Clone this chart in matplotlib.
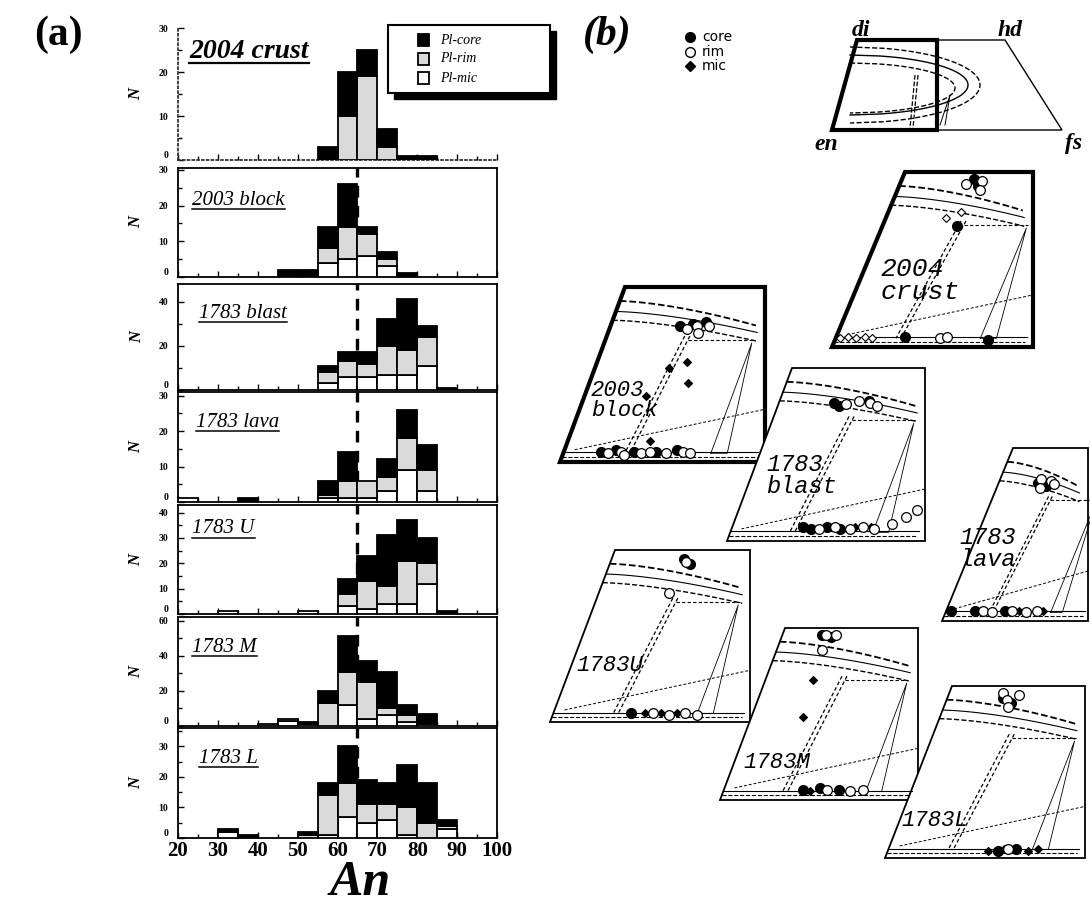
import numpy as np
import matplotlib
matplotlib.use('Agg')
import matplotlib.pyplot as plt
from matplotlib.patches import Polygon, Rectangle
from matplotlib.ticker import MultipleLocator

# ------------------------------------------------------------------
# (a) histogram data: bins of An (left edges), counts per component
# ------------------------------------------------------------------
bin_left = [20, 25, 30, 35, 40, 45, 50, 55, 60, 65, 70, 75, 80, 85, 90, 95]
sample_names = ['2004 crust', '2003 block', '1783 blast', '1783 lava',
                '1783 U', '1783 M', '1783 L']

crust_mic  = [0, 0, 0, 0, 0, 0, 0, 0, 0, 0, 0, 0, 0, 0, 0, 0]
crust_rim  = [0, 0, 0, 0, 0, 0, 0, 0, 10, 19, 3, 0, 0, 0, 0, 0]
crust_core = [0, 0, 0, 0, 0, 0, 0, 3, 10, 6, 4, 1, 1, 0, 0, 0]

block_mic  = [0, 0, 0, 0, 0, 0, 0, 4, 5, 6, 3, 0, 0, 0, 0, 0]
block_rim  = [0, 0, 0, 0, 0, 0, 0, 4, 9, 6, 2, 0, 0, 0, 0, 0]
block_core = [0, 0, 0, 0, 0, 2, 2, 6, 12, 2, 2, 1, 0, 0, 0, 0]

blast_mic  = [0, 0, 0, 0, 0, 0, 0, 3, 6, 6, 7, 7, 11, 0, 0, 0]
blast_rim  = [0, 0, 0, 0, 0, 0, 0, 5, 7, 6, 13, 11, 13, 0, 0, 0]
blast_core = [0, 0, 0, 0, 0, 0, 0, 3, 4, 5, 12, 23, 5, 1, 0, 0]

lava_mic  = [1, 0, 0, 0, 0, 0, 0, 1, 1, 1, 3, 9, 3, 0, 0, 0]
lava_rim  = [0, 0, 0, 0, 0, 0, 0, 1, 5, 5, 4, 9, 6, 0, 0, 0]
lava_core = [0, 0, 0, 1, 0, 0, 0, 4, 8, 0, 5, 8, 7, 0, 0, 0]

u_mic  = [0, 0, 1, 0, 0, 0, 1, 0, 3, 2, 4, 4, 12, 0, 0, 0]
u_rim  = [0, 0, 0, 0, 0, 0, 0, 0, 5, 11, 7, 17, 8, 0, 0, 0]
u_core = [0, 0, 0, 0, 0, 0, 0, 0, 6, 10, 20, 16, 10, 1, 0, 0]

m_mic  = [0, 0, 0, 0, 0, 3, 1, 0, 12, 4, 6, 2, 1, 0, 0, 0]
m_rim  = [0, 0, 0, 0, 1, 1, 0, 13, 19, 21, 4, 4, 0, 0, 0, 0]
m_core = [0, 0, 0, 0, 0, 0, 1, 7, 20, 12, 21, 6, 6, 0, 0, 0]

l_mic  = [0, 0, 2, 0, 0, 0, 0, 1, 7, 5, 6, 1, 0, 3, 0, 0]
l_rim  = [0, 0, 0, 0, 0, 0, 1, 13, 11, 6, 5, 9, 5, 1, 0, 0]
l_core = [0, 0, 1, 1, 0, 0, 1, 4, 12, 8, 7, 14, 13, 2, 0, 0]

mic_sets  = [crust_mic, block_mic, blast_mic, lava_mic, u_mic, m_mic, l_mic]
rim_sets  = [crust_rim, block_rim, blast_rim, lava_rim, u_rim, m_rim, l_rim]
core_sets = [crust_core, block_core, blast_core, lava_core, u_core, m_core, l_core]

y_max   = [30, 30.5, 48, 31, 43, 62, 36]
y_major = [10, 10, 20, 10, 10, 20, 10]
y_minor = [5, 5, 10, 5, 5, 10, 5]
x_ticks = [20, 30, 40, 50, 60, 70, 80, 90, 100]
ref_An = 65

# ------------------------------------------------------------------
# (b) pyroxene compositions in each inset: (u = Fs-direction, v = Wo-direction)
# ------------------------------------------------------------------
inset_names = ['2004\ncrust', '2003\nblock', '1783\nblast', '1783\nlava',
               '1783U', '1783M', '1783L']

crust_core_u = [0.36, 0.39, 0.37, 0.34, 0.76]
crust_core_v = [0.96, 0.92, 0.69, 0.06, 0.04]
crust_rim_u  = [0.40, 0.33, 0.41, 0.52, 0.55]
crust_rim_v  = [0.95, 0.93, 0.90, 0.05, 0.06]
crust_mic_u  = [0.36, 0.30, 0.02, 0.06, 0.10, 0.14, 0.18]
crust_mic_v  = [0.77, 0.74, 0.05, 0.06, 0.05, 0.06, 0.05]

block_core_u = [0.34, 0.46, 0.40, 0.18, 0.25, 0.34, 0.45, 0.55]
block_core_v = [0.78, 0.80, 0.79, 0.06, 0.07, 0.06, 0.06, 0.07]
block_rim_u  = [0.38, 0.42, 0.44, 0.48, 0.22, 0.28, 0.30, 0.38, 0.42, 0.50, 0.58, 0.62]
block_rim_v  = [0.76, 0.78, 0.74, 0.78, 0.05, 0.06, 0.04, 0.05, 0.06, 0.05, 0.06, 0.05]
block_mic_u  = [0.36, 0.44, 0.30, 0.48, 0.40]
block_mic_v  = [0.54, 0.57, 0.38, 0.45, 0.12]

blast_core_u = [0.28, 0.31, 0.45, 0.36, 0.40, 0.48, 0.55]
blast_core_v = [0.80, 0.78, 0.81, 0.08, 0.07, 0.08, 0.07]
blast_rim_u  = [0.34, 0.40, 0.46, 0.50, 0.44, 0.52, 0.60, 0.66, 0.72, 0.80, 0.86, 0.90]
blast_rim_v  = [0.79, 0.81, 0.80, 0.78, 0.07, 0.08, 0.07, 0.08, 0.07, 0.10, 0.14, 0.18]
blast_mic_u  = [0.62, 0.70]
blast_mic_v  = [0.08, 0.08]

lava_core_u = [0.27, 0.33, 0.03, 0.20, 0.40]
lava_core_v = [0.80, 0.78, 0.06, 0.06, 0.06]
lava_rim_u  = [0.28, 0.30, 0.35, 0.38, 0.25, 0.32, 0.45, 0.55, 0.62]
lava_rim_v  = [0.82, 0.77, 0.81, 0.79, 0.06, 0.05, 0.06, 0.05, 0.06]
lava_mic_u  = [0.50, 0.66]
lava_mic_v  = [0.06, 0.06]

ua_core_u = [0.36, 0.40, 0.39]
ua_core_v = [0.95, 0.92, 0.05]
ua_rim_u  = [0.38, 0.35, 0.50, 0.58, 0.66, 0.72]
ua_rim_v  = [0.93, 0.75, 0.05, 0.04, 0.05, 0.04]
ua_mic_u  = [0.46, 0.54, 0.62]
ua_mic_v  = [0.05, 0.05, 0.05]

ma_core_u = [0.20, 0.25, 0.40, 0.48, 0.58]
ma_core_v = [0.96, 0.95, 0.06, 0.07, 0.06]
ma_rim_u  = [0.22, 0.27, 0.23, 0.52, 0.64, 0.70]
ma_rim_v  = [0.96, 0.96, 0.87, 0.06, 0.05, 0.06]
ma_mic_u  = [0.24, 0.26, 0.44]
ma_mic_v  = [0.70, 0.48, 0.05]

la_core_u = [0.28, 0.33, 0.55, 0.64]
la_core_v = [0.93, 0.90, 0.04, 0.05]
la_rim_u  = [0.27, 0.30, 0.35, 0.32, 0.60]
la_rim_v  = [0.96, 0.92, 0.95, 0.88, 0.05]
la_mic_u  = [0.50, 0.58, 0.70, 0.75]
la_mic_v  = [0.04, 0.05, 0.04, 0.05]

core_u = [crust_core_u, block_core_u, blast_core_u, lava_core_u, ua_core_u, ma_core_u, la_core_u]
core_v = [crust_core_v, block_core_v, blast_core_v, lava_core_v, ua_core_v, ma_core_v, la_core_v]
rim_u = [crust_rim_u, block_rim_u, blast_rim_u, lava_rim_u, ua_rim_u, ma_rim_u, la_rim_u]
rim_v = [crust_rim_v, block_rim_v, blast_rim_v, lava_rim_v, ua_rim_v, ma_rim_v, la_rim_v]
mic_u = [crust_mic_u, block_mic_u, blast_mic_u, lava_mic_u, ua_mic_u, ma_mic_u, la_mic_u]
mic_v = [crust_mic_v, block_mic_v, blast_mic_v, lava_mic_v, ua_mic_v, ma_mic_v, la_mic_v]

# ------------------------------------------------------------------
W_PX, H_PX = 1090, 906
fig = plt.figure(figsize=(W_PX / 100, H_PX / 100), dpi=100)
fig.patch.set_facecolor('white')
SERIF = 'Liberation Serif'
GRAY = '#dadada'


def fx(px):
    return px / W_PX


def fy(py):
    return 1 - py / H_PX


# panel placement in pixels (top, bottom)
x_left_px, x_right_px = 178, 497
panel_px = [(28, 160), (168, 277), (284, 390), (392, 502),
            (505, 614), (617, 726), (728, 838)]
title_pos = [(0.035, 0.82), (0.045, 0.70), (0.065, 0.72), (0.055, 0.72),
             (0.045, 0.78), (0.045, 0.72), (0.065, 0.72)]

axes = []
for i, (t, b) in enumerate(panel_px):
    ax = fig.add_axes([fx(x_left_px), fy(b), fx(x_right_px - x_left_px), (b - t) / H_PX])
    axes.append(ax)
    mic = np.array(mic_sets[i], float)
    rim = np.array(rim_sets[i], float)
    core = np.array(core_sets[i], float)
    left = np.array(bin_left, float)
    m = mic > 0
    ax.bar(left[m], mic[m], width=5, align='edge', bottom=0, color='white',
           edgecolor='black', linewidth=1.3, zorder=3)
    r = rim > 0
    ax.bar(left[r], rim[r], width=5, align='edge', bottom=mic[r], color=GRAY,
           edgecolor='black', linewidth=1.3, zorder=3)
    c = core > 0
    ax.bar(left[c], core[c], width=5, align='edge', bottom=(mic + rim)[c], color='black',
           edgecolor='black', linewidth=1.3, zorder=3)
    if i > 0:
        ax.axvline(ref_An, color='black', lw=2.4, ls=(0, (3.5, 2.5)), zorder=2)
    ax.set_xlim(20, 100)
    ax.set_ylim(0, y_max[i])
    ax.xaxis.set_major_locator(MultipleLocator(10))
    ax.xaxis.set_minor_locator(MultipleLocator(5))
    ax.yaxis.set_major_locator(MultipleLocator(y_major[i]))
    ax.yaxis.set_minor_locator(MultipleLocator(y_minor[i]))
    ax.tick_params(axis='both', which='both', direction='in', top=False, right=False)
    ax.tick_params(axis='both', which='major', length=4, width=1)
    ax.tick_params(axis='both', which='minor', length=3, width=1)
    ax.tick_params(axis='y', labelsize=7, pad=7)
    yt = [v for v in np.arange(0, y_max[i] + 0.01, y_major[i])]
    ax.set_yticks(yt)
    ax.set_yticklabels(['%d' % v for v in yt], fontfamily=SERIF, fontweight='bold', fontsize=7)
    for lab in ax.get_yticklabels():
        if lab.get_text() == '0':
            lab.set_va('bottom')
    if i < 6:
        ax.tick_params(axis='x', labelbottom=False)
    else:
        ax.set_xticks(x_ticks)
        ax.set_xticklabels([str(v) for v in x_ticks], fontfamily=SERIF,
                           fontweight='bold', fontsize=15)
        ax.tick_params(axis='x', pad=2)
    for sp in ax.spines.values():
        sp.set_linewidth(1.3)
    if i == 0:
        ax.spines['top'].set_visible(False)
        ax.spines['right'].set_visible(False)
        ax.spines['left'].set_linestyle(':')
        ax.spines['bottom'].set_linestyle(':')
        ax.spines['left'].set_color('#333333')
        ax.spines['bottom'].set_color('#333333')
    ax.set_ylabel('N', fontfamily=SERIF, fontstyle='italic', fontweight='bold',
                  fontsize=12, labelpad=10, rotation=90)
    fs = 20 if i == 0 else 15
    fw = 'bold' if i == 0 else 'normal'
    ax.text(title_pos[i][0], title_pos[i][1], sample_names[i], transform=ax.transAxes,
            fontfamily=SERIF, fontstyle='italic', fontweight=fw, fontsize=fs,
            va='center', ha='left', zorder=6, gid='title%d' % i)

# big x label
fig.text(fx(360), fy(883), 'An', fontfamily=SERIF, fontstyle='italic',
         fontweight='bold', fontsize=36, ha='center', va='center')
fig.text(fx(58), fy(35), '(a)', fontfamily=SERIF, fontweight='bold',
         fontsize=30, ha='center', va='center')
fig.text(fx(607), fy(35), '(b)', fontfamily=SERIF, fontweight='bold',
         fontstyle='italic', fontsize=30, ha='center', va='center')

# overlay axes in pixel coordinates
ov = fig.add_axes([0, 0, 1, 1], zorder=10)
ov.set_xlim(0, W_PX)
ov.set_ylim(H_PX, 0)
ov.axis('off')

# legend for (a)
ov.add_patch(Rectangle((394, 31), 162, 68, facecolor='black', edgecolor='black', zorder=1))
ov.add_patch(Rectangle((388, 25), 162, 68, facecolor='white', edgecolor='black', lw=1.5, zorder=2))
leg_labels = ['Pl-core', 'Pl-rim', 'Pl-mic']
leg_colors = ['black', GRAY, 'white']
for k in range(3):
    yy = 40 + k * 19
    ov.add_patch(Rectangle((418, yy - 6), 11, 12, facecolor=leg_colors[k],
                           edgecolor='black', lw=1.3, zorder=3))
    ov.text(440, yy, leg_labels[k], fontfamily=SERIF, fontstyle='italic',
            fontsize=10, va='center', ha='left', zorder=3)

# legend for (b)
ov.plot([690], [37], 'o', ms=7, mfc='black', mec='black')
ov.plot([690], [52], 'o', ms=7, mfc='white', mec='black')
ov.plot([690], [66], 'D', ms=5, mfc='black', mec='black')
for k, t in enumerate(['core', 'rim', 'mic']):
    ov.text(702, 37 + k * 14.5, t, fontfamily='DejaVu Sans', fontsize=10, va='center')

# top reference quadrilateral
ov.add_patch(Polygon([(857, 40), (1005, 40), (1062, 130), (832, 130)], closed=True,
                     fill=False, lw=1.0, edgecolor='black'))
ov.add_patch(Polygon([(857, 40), (937, 40), (937, 130), (832, 130)], closed=True,
                     fill=False, lw=3.0, edgecolor='black'))
tt = np.linspace(-1, 1, 60)
for rx, ry, cy, ls in [(130, 38, 85, '--'), (118, 30, 85, '-'), (105, 25, 88, '--')]:
    xs = 850 + rx * np.sqrt(1 - tt ** 2)
    ys = cy + ry * tt
    ov.plot(xs, ys, ls=ls, color='black', lw=1.0)
ov.plot([915, 910], [75, 128], ls='--', color='black', lw=0.9)
ov.plot([918, 913], [75, 128], ls='--', color='black', lw=0.9)
ov.plot([940, 950, 945], [125, 95, 125], color='black', lw=0.7)
for t, (x, y) in zip(['di', 'hd', 'en', 'fs'], [(861, 30), (1010, 30), (826, 144), (1074, 144)]):
    ov.text(x, y, t, fontfamily=SERIF, fontstyle='italic', fontweight='bold',
            fontsize=17, ha='center', va='center')

# insets: (BLx, TLx, Rx, top, bottom, thick)
insets = [(832, 905, 1033, 172, 347, True),
          (560, 625, 765, 287, 462, True),
          (727, 792, 925, 368, 541, False),
          (942, 1013, 1088, 448, 621, False),
          (550, 615, 750, 550, 722, False),
          (720, 785, 918, 628, 800, False),
          (885, 952, 1085, 686, 858, False)]
label_xy = [(0.24, 0.38), (0.15, 0.35), (0.20, 0.38), (0.12, 0.42),
            (0.13, 0.33), (0.12, 0.22), (0.08, 0.22)]
label_fs = [19, 16, 17, 17, 16, 16, 16]


def to_px(box, u, v):
    blx, tlx, rx, top, bot, _ = box
    u = np.asarray(u, float)
    v = np.asarray(v, float)
    W = rx - blx
    H = bot - top
    return blx + v * (tlx - blx) + u * W, bot - v * H


for i, box in enumerate(insets):
    blx, tlx, rx, top, bot, thick = box
    ov.add_patch(Polygon([(blx, bot), (tlx, top), (rx, top), (rx, bot)], closed=True,
                         facecolor='white', edgecolor='black', lw=3.0 if thick else 1.3))
    # solvus-like curves
    vv = np.linspace(0, 1, 50)
    for v0, dv, ls, lw in [(0.92, 0.14, '--', 1.3), (0.86, 0.12, '-', 0.8), (0.81, 0.12, '--', 1.0)]:
        umax = (rx - (blx + v0 * (tlx - blx))) / (rx - blx)
        uu = vv * umax
        vcur = v0 - dv * vv ** 1.5
        x, y = to_px(box, uu, vcur)
        m = x <= rx
        ov.plot(x[m], y[m], ls=ls, color='black', lw=lw)
    # tie-line-like dashed verticals
    for du in (0.0, 0.025):
        x, y = to_px(box, [0.38 + du, 0.30 + du], [0.72, 0.05])
        ov.plot(x, y, ls=(0, (3, 2)), color='black', lw=0.9)
    x, y = to_px(box, [0.40, 0.72], [0.70, 0.70])
    ov.plot(x, y, ls=(0, (3, 2)), color='black', lw=0.8)
    x, y = to_px(box, [0.72, 0.72, 0.80, 0.72], [0.05, 0.68, 0.05, 0.05])
    ov.plot(x, y, color='black', lw=0.6)
    x, y = to_px(box, [0.05, 0.90], [0.07, 0.30])
    ov.plot(x, y, ls=(0, (3, 2)), color='black', lw=0.7)
    for vb, lsb in [(0.03, '--'), (0.055, '-')]:
        x, y = to_px(box, [0.0, 0.95], [vb, vb])
        ov.plot(np.clip(x, None, rx - 3), y, ls=lsb, color='black', lw=0.8)
    # points
    x, y = to_px(box, mic_u[i], mic_v[i])
    ov.plot(x, y, 'D', ms=4.5, mfc='black' if i != 0 else 'white', mec='black', mew=0.8, ls='none', zorder=4)
    x, y = to_px(box, core_u[i], core_v[i])
    ov.plot(x, y, 'o', ms=7, mfc='black', mec='black', ls='none', zorder=4)
    x, y = to_px(box, rim_u[i], rim_v[i])
    ov.plot(x, y, 'o', ms=7, mfc='white', mec='black', mew=0.9, ls='none', zorder=5)
    # label
    lx = blx + label_xy[i][0] * (rx - blx)
    ly = bot - label_xy[i][1] * (bot - top)
    ov.text(lx, ly, inset_names[i], fontfamily='Liberation Mono', fontstyle='italic',
            fontsize=label_fs[i], ha='left', va='center', linespacing=0.95, zorder=6)

# underline panel titles
fig.canvas.draw()
rend = fig.canvas.get_renderer()
for i, ax in enumerate(axes):
    for t in ax.texts:
        if t.get_gid() == 'title%d' % i:
            bb = t.get_window_extent(rend)
            x0, x1 = bb.x0 / W_PX, bb.x1 / W_PX
            yb = bb.y0 / H_PX + 0.001
            fig.add_artist(plt.Line2D([x0, x1], [yb, yb], transform=fig.transFigure,
                                      color='black', lw=1.6 if i == 0 else 1.1))

fig.savefig('out.png', dpi=100, facecolor='white')
